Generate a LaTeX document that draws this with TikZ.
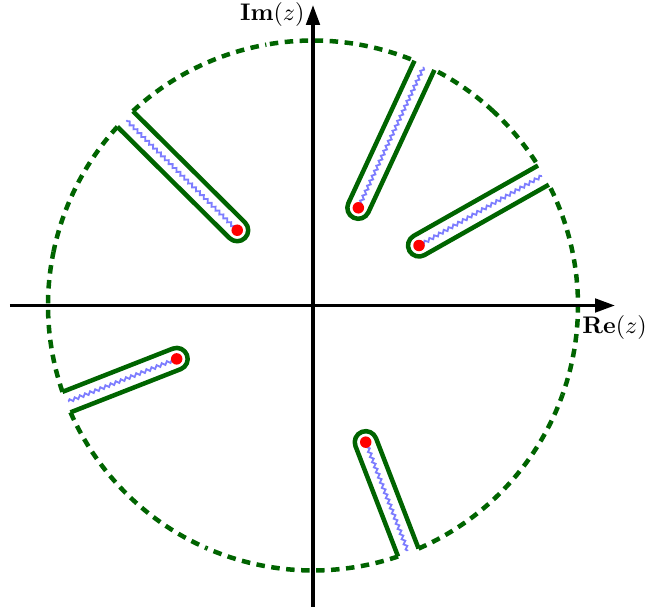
\documentclass[tikz,border=0pt]{standalone}
\usetikzlibrary{arrows.meta,decorations.pathmorphing,calc}
\definecolor{cgreen}{RGB}{0,100,0}
\definecolor{cblue}{RGB}{125,125,255}
\newcommand\dasharc[3]{\draw[dashcirc,dash phase=#3] (#1:\R) arc[start angle=#1, end angle=#2, radius=\R];}
\begin{document}
\begin{tikzpicture}[x=1pt,y=1pt,
  axis/.style={line width=3.4pt,-{Triangle[length=20pt,width=13.5pt]}},
  contour/.style={cgreen,line width=4.5pt,line join=round},
  dashcirc/.style={cgreen,line width=4.5pt,dash pattern=on 8.5pt off 6.5pt},
  cut/.style={cblue,line width=1.8pt,decorate,decoration={snake,amplitude=1.5pt,segment length=5.5pt}},
  pole/.style={circle,fill=red,inner sep=0pt,minimum size=11.5pt},
  lab/.style={inner sep=0pt,scale=2.4}]
\useasboundingbox (-313,-303.5) rectangle (333,305.5);
\def\R{265}
\def\d{11}
\pgfmathsetmacro\b{asin(\d/\R)}
% dashed circle pieces (between the cuts)
\pgfmathsetmacro\sa{29.5+\b}\pgfmathsetmacro\ea{65.1-\b}\pgfmathsetmacro\ma{(29.5+65.1)/2}
\dasharc{\sa}{\ma}{11pt}\dasharc{\ea}{\ma}{11pt}
\pgfmathsetmacro\sa{65.1+\b}\pgfmathsetmacro\ea{135.2-\b}\pgfmathsetmacro\ma{(65.1+135.2)/2}
\dasharc{\sa}{\ma}{11pt}\dasharc{\ea}{\ma}{0pt}
\pgfmathsetmacro\sa{135.2+\b}\pgfmathsetmacro\ea{201.4-\b}\pgfmathsetmacro\ma{(135.2+201.4)/2}
\dasharc{\sa}{\ma}{0pt}\dasharc{\ea}{\ma}{0pt}
\pgfmathsetmacro\sa{201.4+\b}\pgfmathsetmacro\ea{291.1-\b}\pgfmathsetmacro\ma{(201.4+291.1)/2}
\dasharc{\sa}{\ma}{0pt}\dasharc{\ea}{\ma}{0pt}
\pgfmathsetmacro\sa{291.1+\b}\pgfmathsetmacro\ea{389.5-\b}\pgfmathsetmacro\ma{(291.1+389.5)/2}
\dasharc{\sa}{\ma}{0pt}\dasharc{\ea}{\ma}{11pt}
% axes
\coordinate (xl) at (-303,0);
\coordinate (xr) at (302,0);
\coordinate (yb) at (0,-301.5);
\coordinate (yt) at (0,300.5);
\draw[axis] (xl) -- (xr);
\draw[axis] (yb) -- (yt);
\node[lab,anchor=base east] (imlab) at (-8,285) {\textbf{Im}$(z)$};
\node[lab,anchor=base west] (relab) at (269,-28.5) {\textbf{Re}$(z)$};
% cuts with keyhole contours
\foreach \a/\r [count=\i] in {29.5/121.8, 65.1/107.7, 135.2/106.8, 201.4/146.4, 291.1/146.5} {
  \pgfmathsetmacro\ap{\a+\b}
  \pgfmathsetmacro\am{\a-\b}
  \coordinate (c\i) at (\a:\r);
  \coordinate (e\i) at (\a:263);
  \draw[cut] (c\i) -- (e\i);
  \draw[contour] (\ap:\R) -- ($(c\i)+(\a+90:\d)$) arc[start angle=\a+90, end angle=\a+270, radius=\d] -- (\am:\R);
  \node[pole] (p\i) at (c\i) {};
}
\end{tikzpicture}
\end{document}
